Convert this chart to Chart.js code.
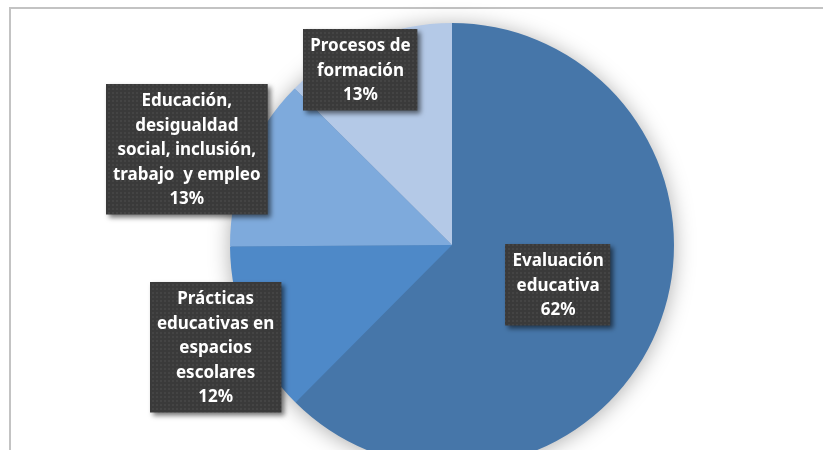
<!DOCTYPE html>
<html>
<head>
<meta charset="utf-8">
<script src="https://cdn.jsdelivr.net/npm/chart.js@4.4.1/dist/chart.umd.min.js"></script>
<style>
  html, body { margin: 0; padding: 0; background: #fff; }
  #wrap { position: relative; width: 823px; height: 450px; overflow: hidden; }
  #frame { position: absolute; left: 9px; top: 7px; right: 0; bottom: 0;
           border-top: 2px solid #c3c3c3; border-left: 2px solid #c3c3c3; }
  #holder { position: absolute; left: 0; top: 0; width: 823px; height: 490px; }
</style>
</head>
<body>
<div id="wrap">
  <div id="frame"></div>
  <div id="holder"><canvas id="pie"></canvas></div>
</div>
<script>
// categories (split in lines as on the labels) and shares in %
const categories = [
  ['Evaluación', 'educativa'],
  ['Prácticas', 'educativas en', 'espacios', 'escolares'],
  ['Educación,', 'desigualdad', 'social, inclusión,', 'trabajo  y empleo'],
  ['Procesos de', 'formación']
];
const shares = [62.45, 12.45, 12.55, 12.55];
const shareLabels = ['62%', '12%', '13%', '13%'];
const colors = ['#4676a9', '#4e89c8', '#7eaadc', '#b4c9e7'];

// where each label box sits: fraction of radius and angle nudge (deg)
const labelR = [0.51, 1.16, 1.27, 0.89];
const labelNudge = [-2, -0.6, -2.4, -5];

// dotted dark fill for the label boxes
const pat = document.createElement('canvas');
pat.width = 4; pat.height = 4;
const pc = pat.getContext('2d');
pc.fillStyle = '#3a3a3a';
pc.fillRect(0, 0, 4, 4);
pc.fillStyle = '#444444';
pc.fillRect(0, 0, 2, 2);

const shadowDisc = {
  id: 'shadowDisc',
  beforeDatasetsDraw(chart) {
    const arc = chart.getDatasetMeta(0).data[0];
    if (!arc) return;
    const ctx = chart.ctx;
    ctx.save();
    ctx.shadowColor = 'rgba(0,0,0,0.35)';
    ctx.shadowBlur = 22;
    ctx.shadowOffsetY = 2;
    ctx.fillStyle = colors[0];
    ctx.beginPath();
    ctx.arc(arc.x, arc.y, arc.outerRadius - 1, 0, Math.PI * 2);
    ctx.fill();
    ctx.restore();
  }
};

const boxLabels = {
  id: 'boxLabels',
  afterDraw(chart) {
    const ctx = chart.ctx;
    const meta = chart.getDatasetMeta(0);
    const lineH = 24.5;
    ctx.save();
    ctx.font = 'bold 17px "Noto Sans", "Open Sans", sans-serif';
    ctx.textAlign = 'center';
    ctx.textBaseline = 'middle';
    meta.data.forEach((arc, i) => {
      const lines = categories[i].concat([shareLabels[i]]);
      const mid = (arc.startAngle + arc.endAngle) / 2 + labelNudge[i] * Math.PI / 180;
      const cx = arc.x + Math.cos(mid) * arc.outerRadius * labelR[i];
      const cy = arc.y + Math.sin(mid) * arc.outerRadius * labelR[i];
      let w = 0;
      lines.forEach(l => { w = Math.max(w, ctx.measureText(l).width); });
      w += 14;
      const h = lines.length * lineH + 8;
      const x0 = Math.round(cx - w / 2), y0 = Math.round(cy - h / 2);
      ctx.save();
      ctx.shadowColor = 'rgba(0,0,0,0.55)';
      ctx.shadowBlur = 5;
      ctx.shadowOffsetX = 3;
      ctx.shadowOffsetY = 3;
      ctx.fillStyle = ctx.createPattern(pat, 'repeat');
      ctx.fillRect(x0, y0, w, h);
      ctx.restore();
      ctx.fillStyle = '#ffffff';
      lines.forEach((l, k) => {
        ctx.fillText(l, cx, y0 + 4 + lineH * (k + 0.5) + 1);
      });
    });
    ctx.restore();
  }
};

new Chart(document.getElementById('pie'), {
  type: 'pie',
  data: {
    labels: categories.map(c => c.join(' ')),
    datasets: [{
      data: shares,
      backgroundColor: colors,
      borderWidth: 0
    }]
  },
  options: {
    responsive: true,
    maintainAspectRatio: false,
    animation: false,
    layout: { padding: { top: 23, bottom: 23, left: 230, right: 149 } },
    plugins: {
      legend: { display: false },
      tooltip: { enabled: false }
    }
  },
  plugins: [shadowDisc, boxLabels]
});
</script>
</body>
</html>
